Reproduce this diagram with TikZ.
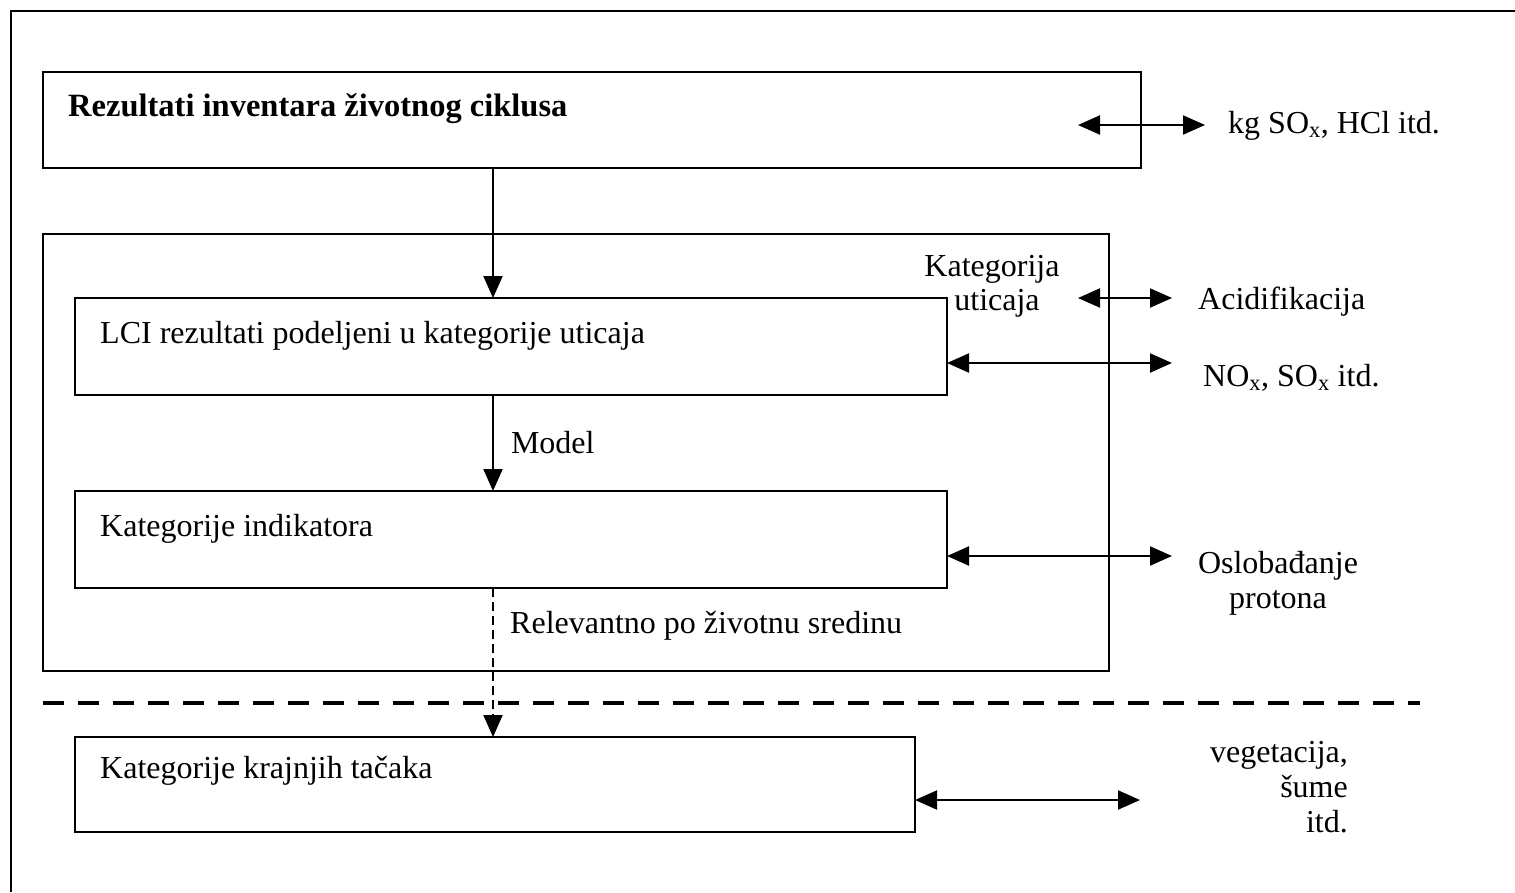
\documentclass[tikz,border=0pt]{standalone}
\usepackage{fontspec}
\setmainfont{Liberation Serif}
\usetikzlibrary{arrows.meta}
\begin{document}
\begin{tikzpicture}[x=1pt,y=-1pt,
  frame/.style={draw, line width=2pt, anchor=north west, inner sep=0pt, outer sep=0pt},
  txt/.style={anchor=west, inner sep=0pt, font=\fontsize{32}{37}\selectfont},
  rtxt/.style={inner sep=0pt, font=\fontsize{32}{37}\selectfont},
  tip/.style={-{Triangle[length=22pt,width=19pt]}, line width=2pt},
  dbl/.style={{Triangle[length=22pt,width=19pt]}-{Triangle[length=22pt,width=19pt]}, line width=2pt},
  thindash/.style={dash pattern=on 9pt off 5pt},
  sepline/.style={line width=4.5pt, dash pattern=on 21pt off 14pt}]
\useasboundingbox (0,0) rectangle (1515,892);
\fill[white] (0,0) rectangle (1515,892);
% outer frame
\draw[line width=2pt] (11,892) -- (11,11) -- (1515,11);
% boxes
\node[frame, minimum width=1098pt, minimum height=96pt] (inv) at (43,72) {};
\node[frame, minimum width=1066pt, minimum height=437pt] (cat) at (43,234) {};
\node[frame, minimum width=872pt, minimum height=97pt] (lci) at (75,298) {};
\node[frame, minimum width=872pt, minimum height=97pt] (ind) at (75,491) {};
\node[frame, minimum width=840pt, minimum height=95pt] (end) at (75,737) {};
% box texts
\node[txt, font=\fontsize{32.5}{37}\selectfont\bfseries] (invt) at (68,109) {Rezultati inventara životnog ciklusa};
\node[txt] (lcit) at (100,336) {LCI rezultati podeljeni u kategorije uticaja};
\node[txt] (indt) at (100,529) {Kategorije indikatora};
\node[txt] (endt) at (100,771) {Kategorije krajnjih tačaka};
\node[rtxt, align=center] (katt) at (992,286) {Kategorija\\[-3pt]\hspace*{10pt}uticaja};
% vertical connectors
\coordinate (vx) at (493,0);
\draw[tip] (inv.south -| vx) -- (lci.north -| vx);
\draw[tip] (lci.south -| vx) -- node[txt, anchor=west, xshift=17pt] (modt) {Model} (ind.north -| vx);
\draw[tip, thindash] (ind.south -| vx) -- (end.north -| vx);
\node[txt] (relt) at (510,626) {Relevantno po životnu sredinu};
% separator
\coordinate (s1) at (43,703);
\coordinate (s2) at (1420,703);
\draw[sepline] (s1) -- (s2);
% right-hand texts
\node[txt] (kgt) at (1228,126) {kg SO\textsubscript{x}, HCl itd.};
\node[txt] (acit) at (1198,302) {Acidifikacija};
\node[txt] (noxt) at (1203,378) {NO\textsubscript{x}, SO\textsubscript{x} itd.};
\node[rtxt, align=center] (oslt) at (1278,583) {Oslobađanje\\[-2pt]protona};
\node[rtxt, align=right, anchor=east] (vegt) at (1348,787) {vegetacija,\\[-2pt]šume\\[-2pt]itd.};
% right-hand arrows
\coordinate (a0l) at (1078,125);
\coordinate (a0r) at (1205,125);
\draw[dbl] (a0l) -- (a0r);
\coordinate (a1l) at (1078,298);
\coordinate (a1r) at (1172,298);
\draw[dbl] (a1l) -- (a1r);
\coordinate (a2r) at (1172,363);
\draw[dbl] (lci.east |- a2r) -- (a2r);
\coordinate (a3r) at (1172,556);
\draw[dbl] (ind.east |- a3r) -- (a3r);
\coordinate (a4r) at (1140,800);
\draw[dbl] (end.east |- a4r) -- (a4r);
\end{tikzpicture}
\end{document}
